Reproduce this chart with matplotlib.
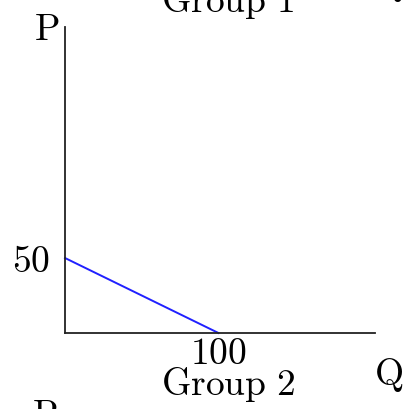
import matplotlib.pyplot as plt

plt.rcParams['mathtext.fontset'] = 'cm'
plt.rcParams['font.family'] = 'serif'

# demand line for group 1: P = 50 - Q/2
q_points = [0, 100]
p_points = [50, 0]
x_max = 202
y_max = 204
p_intercept = 50
q_intercept = 100

fig = plt.figure(figsize=(4.08, 4.09), dpi=100)
ax = fig.add_axes([65/408, 76/409, 310/408, 306/409])

ax.plot(q_points, p_points, color='#2020ff', lw=1.4, clip_on=False)

ax.set_xlim(0, x_max)
ax.set_ylim(0, y_max)
for side in ['top', 'right']:
    ax.spines[side].set_visible(False)
for side in ['left', 'bottom']:
    ax.spines[side].set_linewidth(1.3)
    ax.spines[side].set_color('#222222')

ax.set_xticks([q_intercept])
ax.set_xticklabels([r'$\mathrm{%d}$' % q_intercept])
ax.set_yticks([p_intercept])
ax.set_yticklabels([r'$\mathrm{%d}$' % p_intercept])
ax.tick_params(length=0, labelsize=27, pad=2)
ax.tick_params(axis='y', pad=11)

fs = 27
ax.text(106, 214, r'$\mathrm{Group\ 1}$', fontsize=fs, ha='center', va='baseline', clip_on=False)
ax.text(-12, 195, r'$\mathrm{P}$', fontsize=fs, ha='center', va='baseline', clip_on=False)
ax.text(211, -28, r'$\mathrm{Q}$', fontsize=fs, ha='center', va='center', clip_on=False)
ax.text(106, -41, r'$\mathrm{Group\ 2}$', fontsize=fs, ha='center', va='baseline', clip_on=False)
ax.text(-13, -43, r'$\mathrm{P}$', fontsize=fs, ha='center', va='top', clip_on=False)
ax.text(211, 225, r'$\mathrm{Q}$', fontsize=fs, ha='center', va='baseline', clip_on=False)

fig.savefig('out.png', dpi=100)
